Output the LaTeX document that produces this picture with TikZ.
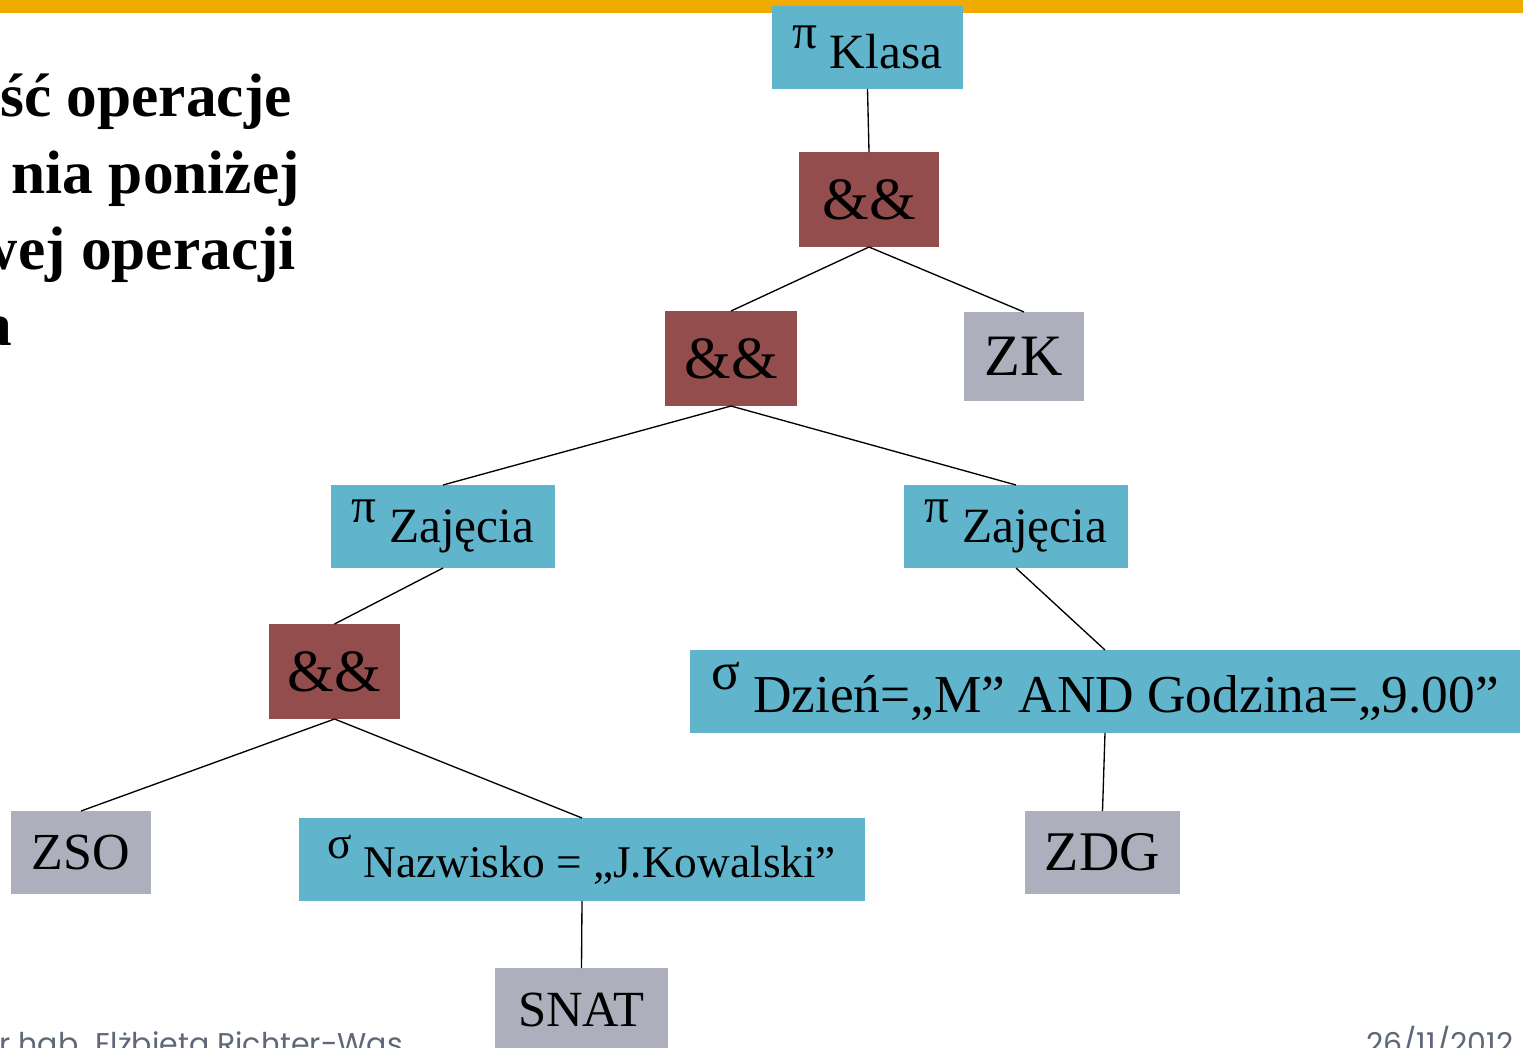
\documentclass[tikz,border=0pt]{standalone}
\usepackage{fontspec}
\setmainfont{Liberation Serif}
\newfontfamily\footfont{Poppins}
\definecolor{cblue}{HTML}{60B4CC}
\definecolor{cred}{HTML}{944D4D}
\definecolor{cgray}{HTML}{ADAFBD}
\definecolor{corange}{HTML}{F0AB00}
\definecolor{cfoot}{HTML}{5F6878}
\newcommand{\fs}[1]{\fontsize{#1}{#1}\selectfont}
\newcommand{\gr}[1]{\raisebox{0.42em}{#1}}
\begin{document}
\begin{tikzpicture}[x=0.75pt,y=-0.75pt,
  bw/.style={minimum width=#1*0.75pt},
  bh/.style={minimum height=#1*0.75pt},
  box/.style={inner sep=0pt, outer sep=0pt, anchor=center, text=black},
  bluebox/.style={box, fill=cblue},
  redbox/.style={box, fill=cred, bh=95, font=\fs{45}},
  graybox/.style={box, fill=cgray, bh=83},
  link/.style={draw=black, line width=1pt},
  lefttext/.style={anchor=base east, inner sep=0pt, font=\bfseries\fs{46}},
  foot/.style={anchor=base west, inner sep=0pt, text=cfoot, font=\footfont\fs{22.5}}]
\useasboundingbox (0,0) rectangle (1523,1047);
\clip (0,0) rectangle (1523,1047);
\fill[white] (0,0) rectangle (1523,1047);
\fill[corange] (0,0) rectangle (1523,13);

% left text
\node[lefttext] (t1) at (292,116) {ść operacje};
\node[lefttext] (t2) at (300,193) {nia poniżej};
\node[lefttext] (t3) at (296,269) {wej operacji};
\node[lefttext] (t4) at (12,345) {a};

% footer
\node[foot] (f1) at (-22,1054) {Dr hab. Elżbieta Richter-Wąs};
\node[foot] (f2) at (1366,1054) {26/11/2012};

% nodes
\node[bluebox, bw=191, bh=83, font=\fs{37}] (klasa) at (867.5,47.5) {\gr{π} Klasa};
\node[redbox, bw=140] (and1) at (869,199.5) {\&\&};
\node[redbox, bw=132] (and2) at (731,358.5) {\&\&};
\node[graybox, bw=120, bh=89, font=\fs{44}] (zk) at (1024,356.5) {ZK};
\node[bluebox, bw=224, bh=83, font=\fs{37}] (zajL) at (443,526.5) {\gr{π} Zajęcia};
\node[bluebox, bw=224, bh=83, font=\fs{37}] (zajR) at (1016,526.5) {\gr{π} Zajęcia};
\node[redbox, bw=131] (and3) at (334.5,671.5) {\&\&};
\node[bluebox, bw=830, bh=83, font=\fs{40}] (dzien) at (1105,691.5) {\gr{σ} Dzień=„M” AND Godzina=„9.00”};
\node[graybox, bw=140, font=\fs{39}] (zso) at (81,852.5) {ZSO};
\node[bluebox, bw=566, bh=83, font=\fs{34}] (nazw) at (582,859.5) {\gr{σ} Nazwisko = „J.Kowalski”};
\node[graybox, bw=155, font=\fs{42}] (zdg) at (1102.5,852.5) {ZDG};
\node[graybox, bw=173, font=\fs{38}] (snat) at (581.5,1009.5) {SNAT};

% connectors
\draw[link] (klasa.south) -- (and1.north);
\draw[link] (and1.south) -- (and2.north);
\draw[link] (and1.south) -- (zk.north);
\draw[link] (and2.south) -- (zajL.north);
\draw[link] (and2.south) -- (zajR.north);
\draw[link] (zajL.south) -- (and3.north);
\draw[link] (zajR.south) -- (dzien.north);
\draw[link] (and3.south) -- (zso.north);
\draw[link] (and3.south) -- (nazw.north);
\draw[link] (nazw.south) -- (snat.north);
\draw[link] (dzien.south) -- (zdg.north);
\end{tikzpicture}
\end{document}
